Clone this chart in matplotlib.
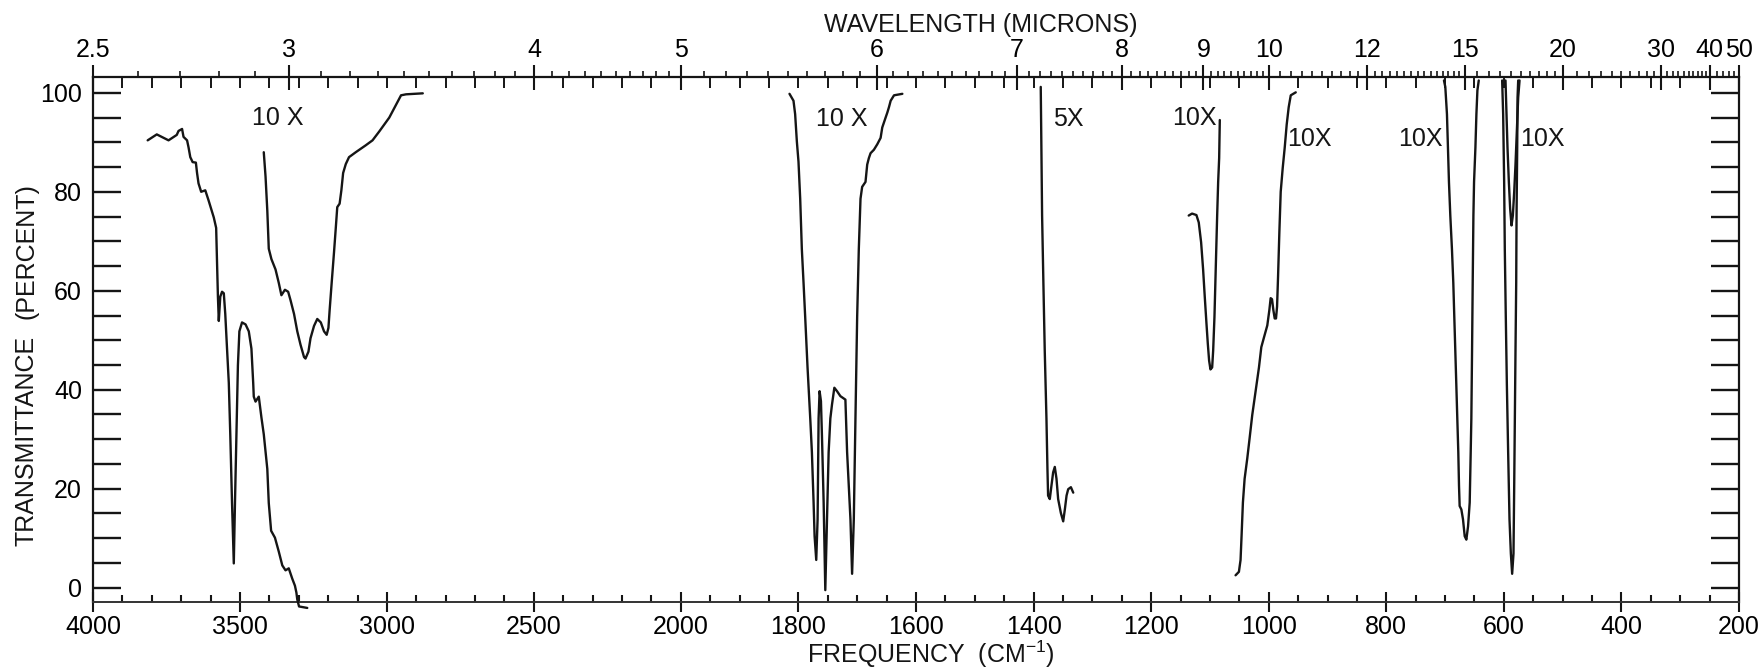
import numpy as np
import matplotlib
matplotlib.use("Agg")
import matplotlib.pyplot as plt
from matplotlib import font_manager
from matplotlib.ticker import FixedLocator, FixedFormatter, NullFormatter


def first_font(candidates):
    for name in candidates:
        try:
            font_manager.findfont(font_manager.FontProperties(family=name),
                                  fallback_to_default=False)
            return name
        except ValueError:
            continue
    return "DejaVu Sans"


FONT = first_font(["Liberation Sans", "DejaVu Sans"])
FS = 18
plt.rcParams["font.family"] = [FONT, "DejaVu Sans"]
plt.rcParams["mathtext.fontset"] = "custom"
plt.rcParams["mathtext.rm"] = FONT
plt.rcParams["mathtext.it"] = FONT
plt.rcParams["mathtext.bf"] = FONT

# ---------------------------------------------------------------- axes data
freq_ticks = [4000, 3500, 3000, 2500, 2000, 1800, 1600, 1400, 1200,
              1000, 800, 600, 400, 200]
freq_labels = [str(v) for v in freq_ticks]
wavelength_ticks = [2.5, 3, 4, 5, 6, 7, 8, 9, 10, 12, 15, 20, 30, 40, 50]
wavelength_labels = ["2.5", "3", "4", "5", "6", "7", "8", "9", "10",
                     "12", "15", "20", "30", "40", "50"]
transmittance_ticks = [0, 20, 40, 60, 80, 100]

# ---------------------------------------------------------------- traces
# survey trace, 3800-3240 cm-1
survey_nu = [3814, 3783, 3743, 3715, 3709, 3697, 3692, 3680, 3675, 3669,
             3661, 3650, 3646, 3641, 3632, 3618, 3607, 3589, 3581, 3578,
             3575, 3572, 3567, 3561, 3555, 3550, 3544, 3538, 3533, 3527,
             3521, 3517, 3512, 3507, 3502, 3493, 3481, 3470, 3461, 3455,
             3453, 3447, 3436, 3427, 3419, 3407, 3402, 3394, 3381, 3368,
             3356, 3345, 3334, 3322, 3313, 3308, 3305, 3299, 3271]
survey_t = [90.4, 91.6, 90.4, 91.5, 92.3, 92.7, 91.1, 90.4, 89.0, 87.0,
            86.0, 85.9, 83.8, 81.7, 80.0, 80.3, 78.3, 74.8, 72.7, 65.7,
            58.8, 53.9, 58.8, 59.8, 59.5, 55.3, 48.3, 41.4, 31.0, 17.1,
            4.9, 17.1, 31.0, 44.9, 51.8, 53.6, 53.2, 51.8, 48.3, 41.4,
            38.6, 37.6, 38.6, 34.4, 31.0, 24.0, 17.1, 11.5, 10.1, 7.3,
            4.5, 3.5, 3.9, 1.8, 0.4, -1.0, -2.4, -3.8, -4.1]

# 10X expansion, 3420-2880 cm-1
oh_10x_nu = [3419, 3413, 3407, 3402, 3393, 3379, 3368, 3359, 3347, 3336,
             3328, 3316, 3305, 3294, 3282, 3277, 3267, 3260, 3248, 3237,
             3225, 3214, 3205, 3199, 3195, 3188, 3180, 3174, 3169, 3161,
             3155, 3149, 3140, 3129, 3106, 3072, 3049, 3026, 2992, 2952,
             2935, 2878]
oh_10x_t = [88.0, 83.1, 76.2, 68.5, 66.4, 64.3, 61.6, 59.1, 60.2, 59.8,
            58.1, 55.3, 51.8, 49.1, 46.6, 46.3, 47.7, 50.4, 52.9, 54.3,
            53.6, 51.8, 51.1, 52.5, 56.0, 61.6, 67.8, 72.7, 76.9, 77.6,
            80.3, 83.8, 85.6, 87.0, 88.0, 89.4, 90.4, 92.2, 95.0, 99.5,
            99.7, 99.9]

# 10X expansion, 1815-1620 cm-1
carbonyl_10x_nu = [1815.2, 1808.4, 1805.6, 1802.7, 1799.9, 1797.0, 1794.2,
                   1791.3, 1788.5, 1784.5, 1779.9, 1777.1, 1774.2, 1772.5,
                   1769.7, 1767.4, 1765.7, 1764.0, 1761.7, 1760.0, 1757.1,
                   1754.3, 1751.4, 1748.6, 1745.7, 1742.9, 1738.9, 1734.3,
                   1728.6, 1720.1, 1717.2, 1711.5, 1708.7, 1705.8, 1703.0,
                   1700.1, 1697.3, 1694.4, 1691.6, 1685.9, 1683.0, 1680.2,
                   1677.3, 1671.6, 1665.9, 1660.2, 1657.4, 1651.7, 1648.8,
                   1646.0, 1643.1, 1637.4, 1623.2]
carbonyl_10x_t = [99.8, 98.4, 95.7, 90.2, 86.1, 78.6, 68.4, 61.6, 54.7,
                  44.5, 34.2, 27.4, 17.2, 10.4, 5.6, 13.8, 34.2, 39.7, 37.7,
                  30.8, 17.2, -0.5, 13.8, 27.4, 34.2, 37.0, 40.4, 39.7,
                  38.7, 38.0, 27.4, 13.8, 2.8, 13.8, 34.2, 54.7, 68.4,
                  78.6, 81.0, 82.0, 85.5, 86.8, 87.8, 88.5, 89.6, 90.9,
                  93.0, 95.0, 96.0, 97.1, 98.4, 99.5, 99.8]

# 5X expansion, 1388-1332 cm-1
band_1380_5x_nu = [1387.8, 1386.7, 1385.5, 1383.3, 1381.0, 1378.1, 1376.4,
                   1375.3, 1372.4, 1369.6, 1366.7, 1363.9, 1361.0, 1358.2,
                   1353.6, 1349.6, 1346.8, 1343.9, 1341.1, 1336.5, 1332.5]
band_1380_5x_t = [101.2, 88.9, 75.2, 61.6, 47.9, 34.2, 24.0, 18.6, 17.9,
                  20.6, 23.3, 24.4, 22.0, 17.9, 15.1, 13.4, 15.8, 18.6,
                  19.9, 20.3, 19.2]

# 10X expansion, 1136-1083 cm-1
band_1100_10x_nu = [1136.1, 1130.4, 1123.0, 1119.0, 1115.0, 1111.6, 1108.8,
                    1105.9, 1103.6, 1101.4, 1099.1, 1096.2, 1094.5, 1092.3,
                    1090.0, 1087.7, 1086.0, 1084.3, 1083.2]
band_1100_10x_t = [75.2, 75.6, 75.3, 73.8, 69.8, 64.3, 58.8, 53.4, 49.3,
                   45.9, 44.1, 44.5, 47.9, 54.7, 65.0, 75.2, 82.0, 86.8,
                   94.5]

# 10X expansion, 1056-954 cm-1
band_1000_10x_nu = [1056.4, 1050.7, 1047.9, 1046.2, 1043.9, 1041.0, 1036.5,
                    1032.5, 1028.0, 1022.3, 1016.6, 1012.6, 1008.0, 1002.4,
                    998.9, 996.7, 994.4, 992.1, 989.8, 987.6, 985.8, 984.1,
                    981.9, 979.6, 976.2, 972.8, 969.4, 966.0, 962.5, 954.0]
band_1000_10x_t = [2.5, 3.2, 5.6, 10.4, 17.2, 22.0, 26.1, 30.2, 34.9, 39.7,
                   44.5, 48.6, 50.6, 53.0, 56.1, 58.5, 58.3, 56.1, 54.4,
                   54.4, 56.8, 62.9, 71.8, 80.0, 84.8, 88.9, 93.6, 97.1,
                   99.5, 100.1]

# 10X expansion, 702-643 cm-1
band_670_10x_nu = [701.9, 699.6, 696.8, 695.1, 693.4, 691.1, 688.3, 686.0,
                   684.3, 682.6, 680.9, 679.2, 677.5, 676.3, 675.2, 672.3,
                   669.5, 666.6, 663.8, 660.9, 658.1, 656.4, 655.3, 654.1,
                   653.0, 651.8, 650.7, 648.4, 646.7, 645.0, 642.7]
band_670_10x_t = [102.5, 101.2, 95.7, 88.9, 82.0, 75.2, 68.4, 61.6, 54.7,
                  47.9, 41.1, 34.2, 27.4, 20.6, 16.5, 15.8, 13.8, 10.4, 9.7,
                  12.4, 17.2, 27.4, 34.2, 47.9, 61.6, 75.2, 82.0, 88.9,
                  95.7, 100.5, 102.5]

# 10X expansion, 603-575 cm-1 (full band)
band_590_nu = [602.9, 601.2, 599.5, 598.4, 596.7, 594.9, 592.7, 590.4,
               588.1, 585.9, 583.6, 582.4, 581.3, 580.2, 579.0, 578.4,
               577.3, 576.7, 575.6]
band_590_t = [102.5, 95.7, 82.0, 68.4, 54.7, 41.1, 27.4, 13.8, 6.9, 2.8,
              6.9, 20.6, 34.2, 47.9, 61.6, 75.2, 88.9, 99.1, 102.5]

# 10X expansion, 597-573 cm-1 (weak band)
band_585_10x_nu = [597.2, 595.5, 593.8, 591.5, 589.3, 587.0, 584.7, 582.4,
                   580.2, 577.9, 575.6, 573.3]
band_585_10x_t = [102.5, 95.7, 88.9, 82.0, 76.6, 73.2, 75.2, 80.0, 85.5,
                  92.3, 99.1, 102.5]

traces = [
    (survey_nu, survey_t),
    (oh_10x_nu, oh_10x_t),
    (carbonyl_10x_nu, carbonyl_10x_t),
    (band_1380_5x_nu, band_1380_5x_t),
    (band_1100_10x_nu, band_1100_10x_t),
    (band_1000_10x_nu, band_1000_10x_t),
    (band_670_10x_nu, band_670_10x_t),
    (band_590_nu, band_590_t),
    (band_585_10x_nu, band_585_10x_t),
]

# scale-expansion marks written on the chart
gain_labels = ["10 X", "10 X", "5X", "10X", "10X", "10X", "10X"]
gain_label_nu = [3373, 1727, 1341, 1127, 930, 742, 534]
gain_label_t = [95.0, 94.7, 94.7, 95.0, 90.6, 90.6, 90.6]


# ---------------------------------------------------------------- scale
# wavenumber axis is compressed by half above 2000 cm-1
def fwd(nu):
    nu = np.asarray(nu, dtype=float)
    return np.where(nu > 2000, 2000 + (nu - 2000) / 2.0, nu)


def inv(u):
    u = np.asarray(u, dtype=float)
    return np.where(u > 2000, 2000 + (u - 2000) * 2.0, u)


def setup_x(a):
    a.set_xscale("function", functions=(fwd, inv))
    a.set_xlim(4000, 200)


INK = "#151515"
W, H = 1763, 669
fig = plt.figure(figsize=(W / 100, H / 100), dpi=100)
ax = fig.add_axes([93 / W, (H - 602) / H, (1739 - 93) / W, (602 - 77) / H])
setup_x(ax)
ax.set_ylim(-2.9, 103.2)

for side in ["left", "right", "top"]:
    ax.spines[side].set_linewidth(1.6)
    ax.spines[side].set_color(INK)
ax.spines["bottom"].set_linewidth(1.4)
ax.spines["bottom"].set_color("#333333")

# bottom: wavenumber scale
minor_nu = [v for v in list(range(3900, 2000, -100)) + list(range(1950, 200, -50))
            if v not in freq_ticks]
ax.xaxis.set_major_locator(FixedLocator(freq_ticks))
ax.xaxis.set_major_formatter(FixedFormatter(freq_labels))
ax.xaxis.set_minor_locator(FixedLocator(minor_nu))
ax.xaxis.set_minor_formatter(NullFormatter())
ax.tick_params(axis="x", which="major", direction="inout", length=14,
               width=1.5, color=INK, pad=2, labelsize=FS, bottom=True,
               top=False)
ax.tick_params(axis="x", which="minor", direction="in", length=5,
               width=1.5, color=INK, bottom=True, top=False)

# left / right: transmittance
ax.yaxis.set_major_locator(FixedLocator(transmittance_ticks))
ax.yaxis.set_minor_locator(FixedLocator([v for v in range(5, 100, 5)
                                         if v not in transmittance_ticks]))
ax.tick_params(axis="y", which="both", direction="in", length=20, width=1.7,
               color=INK, left=True, right=True, labelleft=True,
               labelright=False, labelsize=FS, pad=8)

# top: wavenumber grid ticks hanging from the frame
ax_grid = ax.twiny()
setup_x(ax_grid)
ax_grid.xaxis.set_major_locator(FixedLocator(freq_ticks + minor_nu))
ax_grid.xaxis.set_major_formatter(NullFormatter())
ax_grid.tick_params(axis="x", which="major", direction="in", length=8,
                    width=1.4, color=INK, top=True, bottom=False,
                    labeltop=False)
for s in ax_grid.spines.values():
    s.set_visible(False)

# top: wavelength scale
ax_wl = ax.twiny()
setup_x(ax_wl)
wl_minor = sorted(set(np.round(np.concatenate([
    np.arange(2.6, 10.0, 0.1),
    np.arange(10.2, 15.0, 0.2),
    np.arange(15.5, 20.0, 0.5),
    np.arange(21, 40, 1.0),
    np.arange(42, 50, 2.0),
]), 2)) - set(wavelength_ticks))
ax_wl.xaxis.set_major_locator(FixedLocator([1e4 / w for w in wavelength_ticks]))
ax_wl.xaxis.set_major_formatter(FixedFormatter(wavelength_labels))
ax_wl.xaxis.set_minor_locator(FixedLocator([1e4 / w for w in wl_minor]))
ax_wl.xaxis.set_minor_formatter(NullFormatter())
ax_wl.tick_params(axis="x", which="major", direction="inout", length=18,
                  width=1.5, color=INK, top=True, bottom=False,
                  labeltop=True, labelbottom=False, labelsize=FS, pad=2)
ax_wl.tick_params(axis="x", which="minor", direction="out", length=4,
                  width=1.2, color=INK, top=True, bottom=False)
for s in ax_wl.spines.values():
    s.set_visible(False)

# spectrum traces
for nu, t in traces:
    ax.plot(nu, t, color=INK, lw=1.7, clip_on=False,
            solid_joinstyle="round", solid_capstyle="round", zorder=3)

for text, nu, t in zip(gain_labels, gain_label_nu, gain_label_t):
    ax.text(nu, t, text, ha="center", va="center", fontsize=FS, color=INK)

# axis titles
fig.text(981 / W, 1 - 25 / H, "WAVELENGTH (MICRONS)", ha="center",
         va="center", fontsize=FS, color=INK)
fig.text(931 / W, 1 - 654 / H, r"FREQUENCY  (CM$^{-1}$)", ha="center",
         va="center", fontsize=FS, color=INK)
fig.text(27 / W, 1 - 441 / H, "TRANSMITTANCE", rotation=90, ha="center",
         va="center", fontsize=FS, color=INK)
fig.text(27 / W, 1 - 251 / H, "(PERCENT)", rotation=90, ha="center",
         va="center", fontsize=FS, color=INK)

fig.savefig("out.png", dpi=100, facecolor="white")
